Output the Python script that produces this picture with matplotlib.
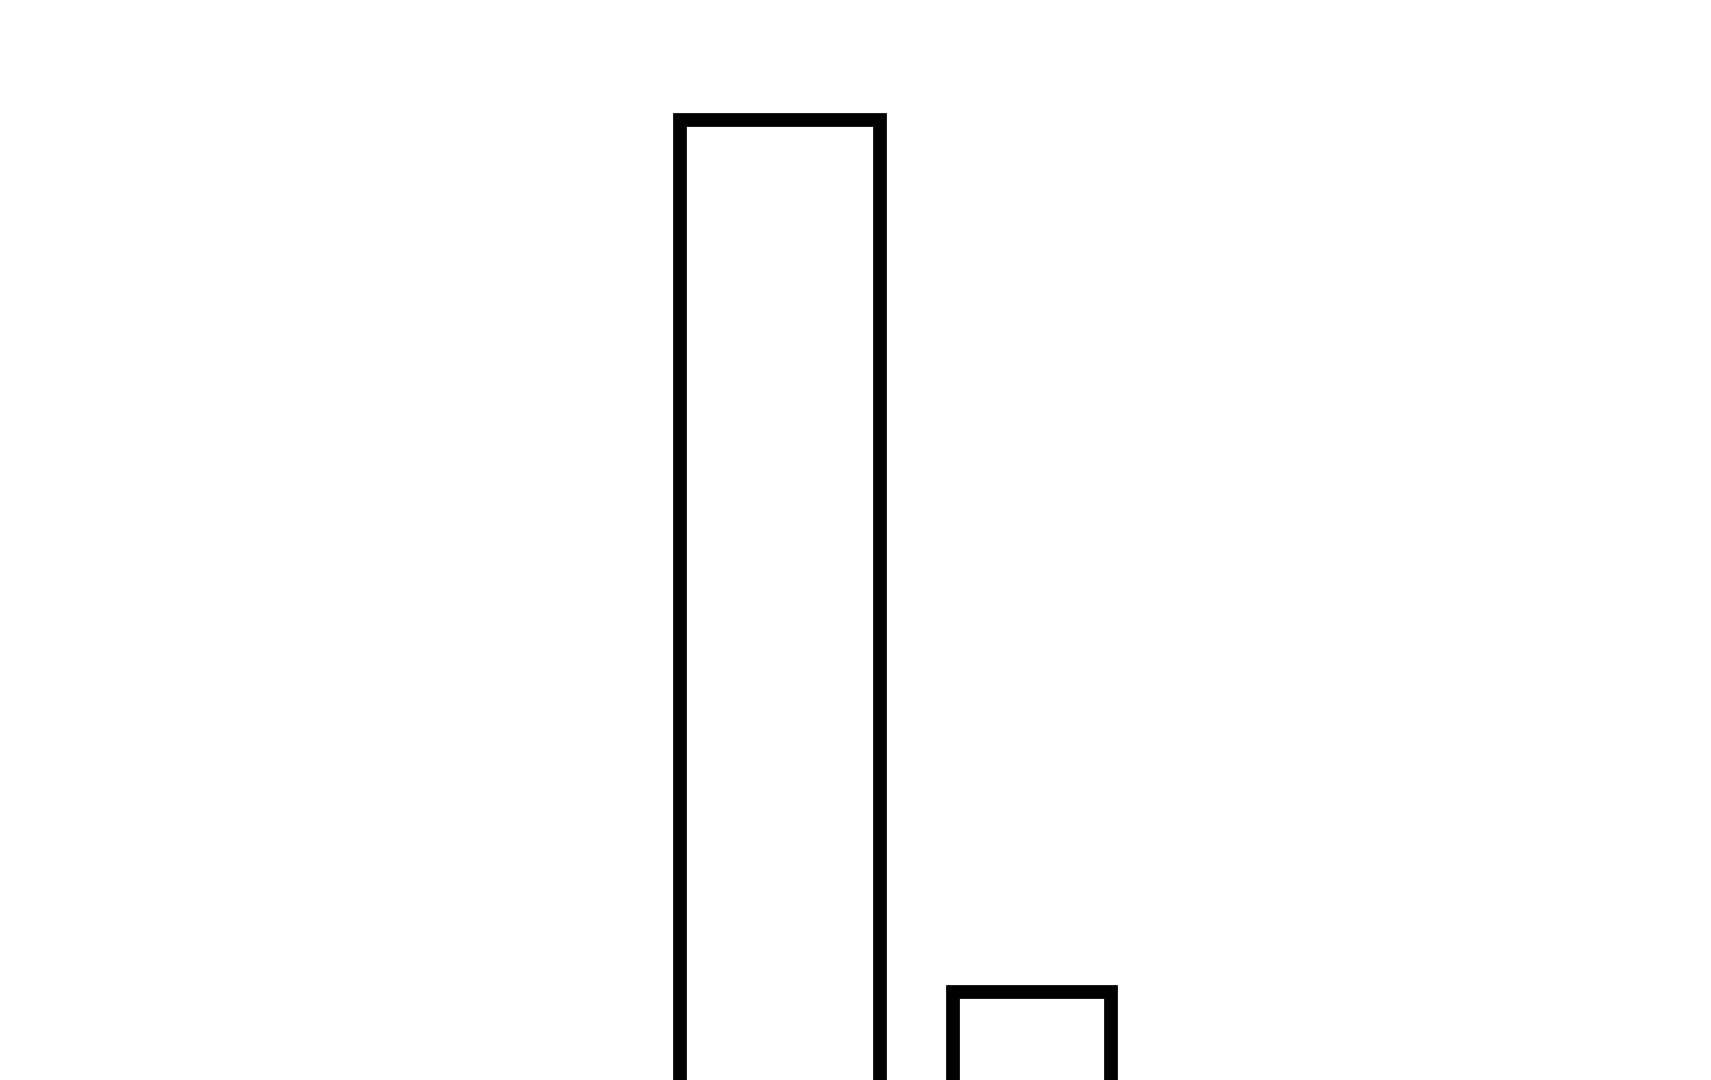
import matplotlib
matplotlib.use('Agg')
import matplotlib.pyplot as plt

# data (bar heights; baseline is below the visible area)
categories = [0, 1]
values = [9.8, 1.08]
widths = [0.79, 0.63]

fig = plt.figure(figsize=(17.11, 10.8), dpi=100)
ax = fig.add_axes([0, 0, 1, 1])

ax.bar(categories, values, width=widths, color='white', edgecolor='black',
       linewidth=9.9, joinstyle='miter')

ax.set_xlim(-3.095, 3.694)
ax.set_ylim(0.2, 11.0)
ax.axis('off')

fig.savefig('out.png', dpi=100, facecolor='white')
